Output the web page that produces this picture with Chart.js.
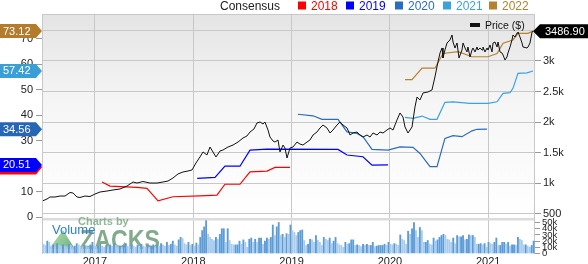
<!DOCTYPE html>
<html>
<head>
<meta charset="utf-8">
<script src="https://cdn.jsdelivr.net/npm/chart.js@4.4.0/dist/chart.umd.min.js"></script>
<style>
  html, body { margin: 0; padding: 0; background: #fff; }
  canvas { display: block; }
</style>
</head>
<body>
<canvas id="zacksChart" width="588" height="264"></canvas>
<script>
// Price ($), x in decimal years
const priceYears = [2016.471,2016.512,2016.542,2016.593,2016.644,2016.695,2016.746,2016.776,2016.817,2016.847,
  2016.898,2016.949,2017.0,2017.051,2017.122,2017.183,2017.254,2017.326,2017.387,2017.427,
  2017.488,2017.560,2017.631,2017.692,2017.743,2017.793,2017.844,2017.895,2017.946,2017.987,
  2018.027,2018.068,2018.099,2018.139,2018.170,2018.200,2018.231,2018.272,2018.302,2018.353,
  2018.404,2018.455,2018.506,2018.546,2018.577,2018.617,2018.648,2018.679,2018.709,2018.729,
  2018.760,2018.780,2018.811,2018.831,2018.862,2018.882,2018.913,2018.933,2018.953,2018.984,
  2019.014,2019.055,2019.085,2019.116,2019.157,2019.187,2019.218,2019.258,2019.289,2019.319,
  2019.360,2019.391,2019.421,2019.462,2019.492,2019.523,2019.564,2019.594,2019.625,2019.665,
  2019.696,2019.726,2019.767,2019.798,2019.828,2019.869,2019.899,2019.930,2019.970,2020.001,
  2020.032,2020.072,2020.103,2020.133,2020.154,2020.184,2020.225,2020.255,2020.276,2020.306,
  2020.337,2020.387,2020.428,2020.458,2020.489,2020.510,2020.530,2020.540,2020.560,2020.581,
  2020.611,2020.632,2020.642,2020.662,2020.683,2020.703,2020.733,2020.744,2020.764,2020.784,
  2020.794,2020.815,2020.835,2020.845,2020.866,2020.886,2020.896,2020.917,2020.937,2020.947,
  2020.967,2020.988,2020.998,2021.018,2021.039,2021.049,2021.069,2021.090,2021.100,2021.120,
  2021.140,2021.151,2021.171,2021.191,2021.201,2021.222,2021.242,2021.252,2021.273,2021.293,
  2021.303,2021.323,2021.344,2021.354,2021.395,2021.405,2021.425,2021.446,2021.456];
const priceValues = [710,738,771,771,787,787,845,837,771,763,
  787,779,820,853,869,886,902,951,1017,1000,
  1025,1000,1000,1017,1033,1082,1148,1181,1197,1214,
  1328,1427,1509,1460,1590,1509,1427,1525,1541,1590,
  1623,1672,1738,1771,1836,1885,1984,2000,1967,2000,
  1869,1754,1689,1672,1705,1509,1623,1574,1410,1574,
  1590,1672,1639,1623,1672,1705,1787,1836,1902,1951,
  1902,1820,1869,1951,2000,1951,1902,1787,1820,1836,
  1787,1754,1787,1754,1820,1787,1836,1820,1869,1902,
  1869,2033,2148,2082,1918,1820,1918,2246,2410,2361,
  2476,2492,2525,2738,2984,3131,3213,3049,3180,3295,
  3344,3426,3311,3213,3295,3049,3180,3295,3213,3148,
  3229,3066,3180,3213,3148,3229,3180,3213,3180,3229,
  3148,3213,3180,3262,3148,3295,3311,3229,3311,3148,
  3131,3098,3016,3066,3131,3229,3344,3426,3393,3459,
  3475,3393,3295,3229,3213,3229,3295,3475,3486.90];

// EPS consensus per fiscal year
const cons2018Years = [2017.071,2017.153,2017.427,2017.529,2017.641,2017.793,2018.068,2018.241,2018.322,2018.475,2018.577,2018.750,2018.831,2018.984];
const cons2018Values = [13.8,12.2,11.7,11.3,6.4,8.0,8.3,8.6,12.9,12.9,17.8,18.1,19.5,19.5];
const cons2019Years = [2018.040,2018.221,2018.322,2018.475,2018.577,2018.750,2019.472,2019.564,2019.726,2019.818,2019.981];
const cons2019Values = [15.2,15.6,20.0,20.0,26.3,26.7,26.6,24.4,23.7,20.4,20.51];
const cons2020Years = [2019.065,2019.218,2019.309,2019.472,2019.564,2019.665,2019.726,2019.818,2019.981,2020.103,
  2020.235,2020.306,2020.408,2020.479,2020.560,2020.642,2020.733,2020.835,2020.886,2020.988];
const cons2020Values = [40.4,39.8,38.4,38.4,33.5,32.9,31.6,26.6,26.3,27.6,27.4,25.0,19.8,19.8,30.9,32.0,31.6,33.9,34.5,34.56];
const cons2021Years = [2020.154,2020.235,2020.327,2020.408,2020.479,2020.560,2020.642,2020.815,2020.998,2021.090,
  2021.151,2021.222,2021.252,2021.303,2021.395,2021.456];
const cons2021Values = [39.2,38.8,39.7,38.4,38.4,45.1,45.3,44.7,44.7,45.3,48.6,48.9,50.6,56.5,56.7,57.42];
const cons2022Years = [2020.154,2020.225,2020.327,2020.458,2020.540,2020.693,2020.835,2020.998,2021.090,2021.151,
  2021.252,2021.303,2021.405,2021.456];
const cons2022Values = [54.0,54.0,58.5,58.5,64.3,65.0,63.0,63.0,64.3,68.3,69.6,72.2,72.2,73.12];

// weekly volume, thousands
const volumeFirstYear = 2016.475;
const volumeLastYear = 2021.462;
const volumeValues = [15,13,20,18,12,14,11,16,13,12, 14,12,11,15,13,10,12,16,14,12,
  11,13,12,10,14,18,13,11,12,15, 12,10,13,11,14,12,16,13,11,12,
  10,13,15,12,11,14,12,10,13,12, 15,12,11,13,10,12,14,11,13,12,
  16,14,12,18,13,15,20,14,12,22, 26,24,16,14,18,13,15,12,17,14,
  26,37,43,53,31,
  26,23,21,26,23,31,40,40,18,40, 21,15,14,14,14,20,15,22,18,10,
  23,25,18,23,18,25,25,15,20,25, 23,26,46,29,43,50,29,31,26,32,
  31,46,37,34,29,34,37,38,21,13, 15,23,22,18,29,21,18,13,26,23,
  21,25,16,20,26,16,14,13,10,18, 15,16,22,22,13,14,13,11,15,13,
  15,13,13,18,11,
  12,13,13,13,15,13,18,15,14,16, 15,13,30,23,21,15,36,31,40,50,
  37,26,42,37,18,18,21,15,14,25, 20,22,26,29,31,29,23,22,18,25,
  16,29,27,27,29,22,23,30,29,29, 26,15,15,16,14,16,10,18,16,15,
  18,25,13,13,18,18,15,18,12,14, 14,13,26,23,21,14,14,12,10,13,20];

const yearTicks = [2017, 2018, 2019, 2020, 2021];
const yearLabels = ['2017', '2018', '2019', '2020', '2021'];
const consTicks = [0, 10, 20, 30, 40, 50, 60, 70];
const priceTicks = [500, 1000, 1500, 2000, 2500, 3000, 3500];
const priceTickLabels = ['500', '1k', '1.5k', '2k', '2.5k', '3k', '3.5k'];
const volumeTicks = [0, 10, 20, 30, 40, 50];
const volumeTickLabels = ['0', '10k', '20k', '30k', '40k', '50k'];
const consLabels = ['2018', '2019', '2020', '2021', '2022'];
const consColors = ['#ff0000', '#0000ff', '#2a6cc0', '#3ca2dc', '#b5822f'];
const badgeColors = ['#ff0000', '#0000ff', '#2566b5', '#3a9fd6', '#b27c2c'];

const FONT = '"Liberation Sans", Arial, sans-serif';
Chart.defaults.font.family = FONT;

const consSeries = [
  [cons2018Years, cons2018Values],
  [cons2019Years, cons2019Values],
  [cons2020Years, cons2020Values],
  [cons2021Years, cons2021Values],
  [cons2022Years, cons2022Values]
];

const pairs = (xs, ys) => xs.map((x, i) => ({ x: x, y: ys[i] }));
const volStep = (volumeLastYear - volumeFirstYear) / (volumeValues.length - 1);
const volumeData = volumeValues.map((v, i) => ({ x: volumeFirstYear + i * volStep, y: v }));

const datasets = [{
  label: 'Price ($)',
  data: pairs(priceYears, priceValues),
  yAxisID: 'yPrice',
  borderColor: '#111',
  borderWidth: 1,
  pointRadius: 0,
  order: 0
}];
consSeries.forEach(([xs, ys], i) => {
  datasets.push({
    label: consLabels[i],
    data: pairs(xs, ys),
    yAxisID: 'yCons',
    borderColor: consColors[i],
    borderWidth: 1.2,
    pointRadius: 0,
    order: 1
  });
});
datasets.push({
  type: 'bar',
  label: 'Volume',
  data: volumeData,
  yAxisID: 'yVol',
  barThickness: 1.2,
  backgroundColor: (c) => {
    const i = c.dataIndex;
    return (i > 0 && volumeValues[i] >= volumeValues[i - 1]) ? '#5a9bd8' : '#a9cbec';
  },
  order: 2
});

function leftBadge(ctx, y, color, text) {
  ctx.fillStyle = color;
  ctx.beginPath();
  ctx.moveTo(0, y - 7);
  ctx.lineTo(36, y - 7);
  ctx.lineTo(42, y);
  ctx.lineTo(36, y + 7);
  ctx.lineTo(0, y + 7);
  ctx.closePath();
  ctx.fill();
  ctx.fillStyle = '#fff';
  ctx.font = '11px ' + FONT;
  ctx.textAlign = 'left';
  ctx.textBaseline = 'middle';
  ctx.fillText(text, 3, y + 0.5);
}

const decor = {
  id: 'decor',
  beforeDraw(chart) {
    const { ctx, chartArea: a, scales } = chart;
    const p = scales.yPrice;
    ctx.save();
    const g = ctx.createLinearGradient(0, p.top, 0, p.bottom);
    g.addColorStop(0, '#e4e4e4');
    g.addColorStop(0.45, '#f6f6f6');
    g.addColorStop(1, '#ffffff');
    ctx.fillStyle = g;
    ctx.fillRect(a.left, p.top, a.right - a.left, p.bottom - p.top);
    ctx.restore();
  },
  beforeDatasetsDraw(chart) {
    const { ctx, chartArea: a, scales } = chart;
    const v = scales.yVol;
    ctx.save();
    // separator between price and volume panels
    ctx.fillStyle = '#dcdcdc';
    ctx.fillRect(a.left, v.top, a.right - a.left, 2.5);
    // frame
    ctx.strokeStyle = '#c8c8c8';
    ctx.lineWidth = 1;
    ctx.beginPath();
    ctx.moveTo(a.left + 0.5, a.bottom);
    ctx.lineTo(a.left + 0.5, a.top + 0.5);
    ctx.lineTo(a.right - 0.5, a.top + 0.5);
    ctx.lineTo(a.right - 0.5, a.bottom);
    ctx.stroke();
    // "Charts by ZACKS" watermark
    ctx.globalAlpha = 0.75;
    const tg = ctx.createLinearGradient(50, 231, 74, 249);
    tg.addColorStop(0, '#9bd49b');
    tg.addColorStop(1, '#3f9650');
    ctx.fillStyle = tg;
    ctx.beginPath();
    ctx.moveTo(63, 230);
    ctx.lineTo(75, 249);
    ctx.lineTo(49, 249);
    ctx.closePath();
    ctx.fill();
    ctx.fillStyle = '#6a9f76';
    ctx.font = 'bold 11px ' + FONT;
    ctx.textAlign = 'left';
    ctx.textBaseline = 'alphabetic';
    ctx.fillText('Charts by', 78, 225);
    ctx.fillStyle = '#588f66';
    ctx.save();
    ctx.translate(80, 249);
    ctx.scale(0.86, 1);
    ctx.font = 'bold 27px ' + FONT;
    ctx.fillText('ZACKS', 0, 0);
    ctx.restore();
    ctx.globalAlpha = 1;
    ctx.fillStyle = '#2f80c8';
    ctx.font = '13px ' + FONT;
    ctx.fillText('Volume', 52, 234);
    ctx.restore();
  },
  afterDraw(chart) {
    const { ctx, scales } = chart;
    ctx.save();
    // top legend
    ctx.font = '12px ' + FONT;
    ctx.textBaseline = 'alphabetic';
    ctx.textAlign = 'left';
    ctx.fillStyle = '#222';
    ctx.fillText('Consensus', 220, 10);
    const legX = [298, 346, 395, 443, 489];
    consLabels.forEach((lab, i) => {
      ctx.fillStyle = consColors[i];
      ctx.fillRect(legX[i], 1.5, 8, 8);
      ctx.fillText(lab, legX[i] + 13, 10);
    });
    // price legend
    ctx.fillStyle = '#111';
    ctx.fillRect(470, 23, 10, 4);
    ctx.font = '10.5px ' + FONT;
    ctx.fillText('Price ($)', 485, 29);
    // consensus badges (last values)
    const yc = scales.yCons;
    consSeries.forEach(([xs, ys], i) => {
      const last = ys[ys.length - 1];
      leftBadge(ctx, yc.getPixelForValue(last), badgeColors[i], last.toFixed(2));
    });
    // price badge
    const lastPrice = priceValues[priceValues.length - 1];
    const py = scales.yPrice.getPixelForValue(lastPrice);
    ctx.fillStyle = '#000';
    ctx.beginPath();
    ctx.moveTo(533, py);
    ctx.lineTo(540, py - 7);
    ctx.lineTo(588, py - 7);
    ctx.lineTo(588, py + 7);
    ctx.lineTo(540, py + 7);
    ctx.closePath();
    ctx.fill();
    ctx.fillStyle = '#fff';
    ctx.font = '11px ' + FONT;
    ctx.textBaseline = 'middle';
    ctx.fillText(lastPrice.toFixed(2), 545, py + 0.5);
    ctx.restore();
  }
};

const ctx = document.getElementById('zacksChart').getContext('2d');
const zacksChart = new Chart(ctx, {
  type: 'line',
  data: { datasets: datasets },
  options: {
    responsive: false,
    animation: false,
    events: [],
    layout: { padding: { top: 14, left: 0, right: 0, bottom: 0 } },
    plugins: { legend: { display: false }, tooltip: { enabled: false } },
    scales: {
      x: {
        type: 'linear',
        min: 2016.461,
        max: 2021.476,
        offset: false,
        afterBuildTicks: (s) => { s.ticks = yearTicks.map(v => ({ value: v })); },
        afterFit: (s) => { s.height = 10; },
        ticks: {
          callback: (v) => yearLabels[yearTicks.indexOf(v)],
          color: '#222',
          font: { size: 11 },
          padding: 1,
          maxRotation: 0,
          autoSkip: false
        },
        grid: { color: '#c8c8c8', drawTicks: false, offset: false },
        border: { display: false }
      },
      yCons: {
        type: 'linear',
        position: 'left',
        min: -14.5,
        max: 79.8,
        afterBuildTicks: (s) => { s.ticks = consTicks.map(v => ({ value: v })); },
        afterFit: (s) => { s.width = 42; },
        ticks: { color: '#222', font: { size: 11 }, padding: 3 },
        grid: { drawOnChartArea: false, tickLength: 6, color: '#999' },
        border: { display: false }
      },
      yPrice: {
        type: 'linear',
        position: 'right',
        stack: 'right',
        stackWeight: 204,
        min: 427,
        max: 3770,
        afterBuildTicks: (s) => { s.ticks = priceTicks.map(v => ({ value: v })); },
        afterFit: (s) => { s.width = 53; },
        ticks: {
          callback: (v) => priceTickLabels[priceTicks.indexOf(v)],
          color: '#222',
          font: { size: 11 },
          padding: 2
        },
        grid: { color: '#c8c8c8', tickColor: '#999', tickLength: 6 },
        border: { display: false }
      },
      yVol: {
        type: 'linear',
        position: 'right',
        stack: 'right',
        stackWeight: 36,
        min: -0.8,
        max: 57.3,
        afterBuildTicks: (s) => { s.ticks = volumeTicks.map(v => ({ value: v })); },
        afterFit: (s) => { s.width = 53; },
        ticks: {
          callback: (v) => volumeTickLabels[volumeTicks.indexOf(v)],
          color: '#222',
          font: { size: 9.5 },
          padding: 2,
          autoSkip: false
        },
        grid: { drawOnChartArea: false, tickColor: '#999', tickLength: 5 },
        border: { display: false }
      }
    }
  },
  plugins: [decor]
});
</script>
</body>
</html>
